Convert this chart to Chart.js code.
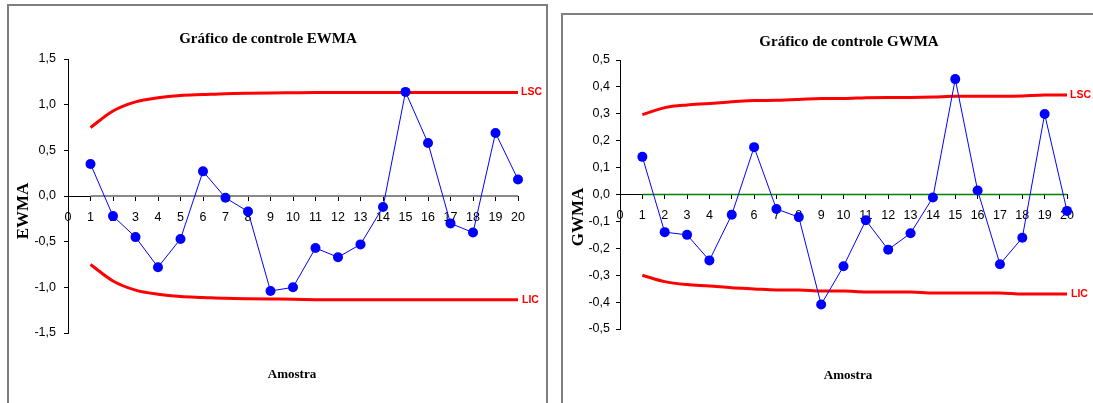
<!DOCTYPE html>
<html lang="pt">
<head>
<meta charset="utf-8">
<title>Gráficos de controle EWMA e GWMA</title>
<script src="https://cdn.jsdelivr.net/npm/chart.js@4"></script>
<style>
  html, body { margin: 0; padding: 0; background: #fff; }
  body { width: 1093px; height: 403px; position: relative; overflow: hidden; }
  .moldura { position: absolute; box-sizing: border-box; border: 2px solid #7f7f7f; }
  #moldura-ewma { left: 7px; top: 4px; width: 541px; height: 430px; }
  #moldura-gwma { left: 561px; top: 13px; width: 600px; height: 430px; }
  canvas { position: absolute; top: 0; }
  #ewmaChart { left: 0; }
  #gwmaChart { left: 550px; }
</style>
</head>
<body>
<div class="moldura" id="moldura-ewma"></div>
<div class="moldura" id="moldura-gwma"></div>
<canvas id="ewmaChart" width="550" height="403"></canvas>
<canvas id="gwmaChart" width="543" height="403"></canvas>

<script>
/* ══════════════════════════════════════
   DADOS
══════════════════════════════════════ */
const amostras = [1, 2, 3, 4, 5, 6, 7, 8, 9, 10, 11, 12, 13, 14, 15, 16, 17, 18, 19, 20];
const xTicks = [0, 1, 2, 3, 4, 5, 6, 7, 8, 9, 10, 11, 12, 13, 14, 15, 16, 17, 18, 19, 20];

// EWMA
const ewma = [0.35, -0.22, -0.45, -0.78, -0.47, 0.27, -0.02, -0.17, -1.04, -1.0,
  -0.57, -0.67, -0.53, -0.12, 1.14, 0.58, -0.3, -0.4, 0.69, 0.18];
const ewmaLSC = [0.75, 0.93, 1.03, 1.075, 1.1, 1.11, 1.12, 1.125, 1.128, 1.13,
  1.132, 1.133, 1.133, 1.133, 1.133, 1.133, 1.133, 1.133, 1.133, 1.133];
const ewmaLIC = [-0.75, -0.93, -1.03, -1.075, -1.1, -1.11, -1.12, -1.125, -1.128, -1.13,
  -1.135, -1.136, -1.136, -1.136, -1.136, -1.136, -1.136, -1.136, -1.136, -1.136];
const ewmaCentral = [0, 0, 0, 0, 0, 0, 0, 0, 0, 0, 0, 0, 0, 0, 0, 0, 0, 0, 0, 0];
const ewmaYTicks = [-1.5, -1.0, -0.5, 0, 0.5, 1.0, 1.5];

// GWMA
const gwma = [0.14, -0.14, -0.15, -0.245, -0.075, 0.176, -0.054, -0.084, -0.409, -0.267,
  -0.096, -0.205, -0.144, -0.011, 0.429, 0.015, -0.259, -0.161, 0.299, -0.061];
const gwmaLSC = [0.297, 0.323, 0.333, 0.338, 0.345, 0.349, 0.35, 0.353, 0.357, 0.357,
  0.36, 0.361, 0.361, 0.362, 0.365, 0.365, 0.365, 0.366, 0.37, 0.37];
const gwmaLIC = [-0.3, -0.324, -0.335, -0.34, -0.347, -0.351, -0.355, -0.355, -0.359, -0.359,
  -0.362, -0.362, -0.362, -0.366, -0.366, -0.366, -0.366, -0.37, -0.37, -0.37];
const gwmaCentral = [0, 0, 0, 0, 0, 0, 0, 0, 0, 0, 0, 0, 0, 0, 0, 0, 0, 0, 0, 0];
const gwmaYTicks = [-0.5, -0.4, -0.3, -0.2, -0.1, 0, 0.1, 0.2, 0.3, 0.4, 0.5];

/* ══════════════════════════════════════
   AUXILIARES
══════════════════════════════════════ */
function pontos(valores) {
  return amostras.map((a, i) => ({ x: a, y: valores[i] }));
}

function formatoVirgula(v) {
  if (Math.abs(v) < 1e-9) v = 0;
  return v.toFixed(1).replace(".", ",");
}

Chart.defaults.font.family = "'Liberation Sans', Arial, sans-serif";
Chart.defaults.color = "#000";

/* textos: título, eixos e rótulos LSC / LIC */
const textosPlugin = {
  id: "textos",
  afterDraw(chart, args, opts) {
    const { ctx } = chart;
    const xs = chart.scales.x;
    const ys = chart.scales.y;

    ctx.save();
    ctx.fillStyle = "#000";
    ctx.textAlign = "center";
    ctx.textBaseline = "alphabetic";
    ctx.font = "bold 15px 'Liberation Serif'";
    ctx.fillText(opts.titulo, opts.tituloX, opts.tituloY);

    ctx.font = "bold 13px 'Liberation Serif'";
    ctx.fillText("Amostra", opts.amostraX, opts.amostraY);

    ctx.translate(opts.eixoYX, opts.eixoYY);
    ctx.rotate(-Math.PI / 2);
    ctx.textBaseline = "middle";
    ctx.font = "bold 17px 'Liberation Serif'";
    ctx.fillText(opts.eixoY, 0, 0);
    ctx.restore();

    ctx.save();
    ctx.fillStyle = "#ff0000";
    ctx.font = "bold 10.5px 'Liberation Sans'";
    ctx.textAlign = "left";
    ctx.textBaseline = "middle";
    const fim = xs.getPixelForValue(amostras[amostras.length - 1]) + 3;
    ctx.fillText("LSC", fim, ys.getPixelForValue(opts.lsc[opts.lsc.length - 1]));
    ctx.fillText("LIC", fim + 1, ys.getPixelForValue(opts.lic[opts.lic.length - 1]));
    ctx.restore();
  },
};

/* ══════════════════════════════════════
   GRÁFICO DE CONTROLE
══════════════════════════════════════ */
function graficoControle(canvasId, cfg) {
  new Chart(document.getElementById(canvasId), {
    type: "line",

    data: {
      datasets: [
        {
          label: cfg.nome,
          data: pontos(cfg.valores),
          borderColor: "#0000ff",
          borderWidth: 1,
          pointRadius: 5,
          pointBackgroundColor: "#0000ff",
          pointBorderColor: "#0000ff",
          pointBorderWidth: 0,
          clip: false,
        },
        {
          label: "LSC",
          data: pontos(cfg.lsc),
          borderColor: "#ff0000",
          borderWidth: 3,
          pointRadius: 0,
          cubicInterpolationMode: "monotone",
        },
        {
          label: "LIC",
          data: pontos(cfg.lic),
          borderColor: "#ff0000",
          borderWidth: 3,
          pointRadius: 0,
          cubicInterpolationMode: "monotone",
        },
        {
          label: "Central",
          data: pontos(cfg.central),
          borderColor: cfg.corCentral,
          borderWidth: cfg.larguraCentral,
          pointRadius: 0,
        },
      ],
    },

    options: {
      responsive: false,
      animation: false,
      layout: { padding: cfg.padding },

      plugins: {
        legend: { display: false },
        tooltip: { enabled: false },
        title: { display: false },
        textos: cfg.textos,
      },

      scales: {
        x: {
          type: "linear",
          position: { y: 0 },
          min: 0,
          max: 20,
          afterBuildTicks: (axis) => {
            axis.ticks = xTicks.map((v) => ({ value: v }));
          },
          afterFit: (axis) => {
            axis.height = 0;
          },
          ticks: {
            autoSkip: false,
            maxRotation: 0,
            padding: 10,
            font: { size: 12.5 },
            color: "#000",
          },
          grid: {
            drawOnChartArea: false,
            tickLength: 4,
            color: "#000",
          },
          border: { color: "#000", width: 1 },
        },

        y: {
          position: "left",
          min: cfg.yMin,
          max: cfg.yMax,
          afterBuildTicks: (axis) => {
            axis.ticks = cfg.yTicks.map((v) => ({ value: v }));
          },
          afterFit: (axis) => {
            axis.width = 40;
          },
          ticks: {
            padding: cfg.yPad,
            font: { size: 12.5 },
            color: "#000",
            callback: (v) => formatoVirgula(v),
          },
          grid: {
            drawOnChartArea: false,
            tickLength: 4,
            color: "#000",
          },
          border: { color: "#000", width: 1 },
        },
      },
    },

    plugins: [textosPlugin],
  });
}

/* ══════════════════════════════════════
   START
══════════════════════════════════════ */
graficoControle("ewmaChart", {
  nome: "EWMA",
  valores: ewma,
  lsc: ewmaLSC,
  lic: ewmaLIC,
  central: ewmaCentral,
  corCentral: "#8a8a8a",
  larguraCentral: 2.2,
  yMin: -1.5,
  yMax: 1.5,
  yTicks: ewmaYTicks,
  yPad: 8,
  padding: { left: 28, right: 32, top: 59, bottom: 70 },
  textos: {
    titulo: "Gráfico de controle EWMA",
    tituloX: 268,
    tituloY: 43,
    amostraX: 292,
    amostraY: 378,
    eixoY: "EWMA",
    eixoYX: 24,
    eixoYY: 211,
    lsc: ewmaLSC,
    lic: ewmaLIC,
  },
});

graficoControle("gwmaChart", {
  nome: "GWMA",
  valores: gwma,
  lsc: gwmaLSC,
  lic: gwmaLIC,
  central: gwmaCentral,
  corCentral: "#008000",
  larguraCentral: 1.6,
  yMin: -0.5,
  yMax: 0.5,
  yTicks: gwmaYTicks,
  yPad: 6,
  padding: { left: 30, right: 26, top: 60, bottom: 74 },
  textos: {
    titulo: "Gráfico de controle GWMA",
    tituloX: 299,
    tituloY: 46,
    amostraX: 298,
    amostraY: 379,
    eixoY: "GWMA",
    eixoYX: 29,
    eixoYY: 217,
    lsc: gwmaLSC,
    lic: gwmaLIC,
  },
});
</script>
</body>
</html>
